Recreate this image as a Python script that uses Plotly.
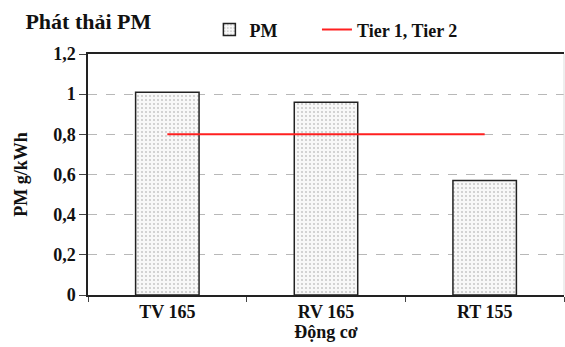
import plotly.graph_objects as go

engines = ["TV 165", "RV 165", "RT 155"]
pm_values = [1.01, 0.96, 0.57]
tier_limit = [0.8, 0.8, 0.8]
y_ticks = [0, 0.2, 0.4, 0.6, 0.8, 1.0, 1.2]

FONT = "Liberation Serif"
INK = "#111111"


def bold(size):
    return dict(family=FONT, size=size, color=INK, weight="bold")


fig = go.Figure()

fig.add_trace(go.Bar(
    x=engines, y=pm_values, name="PM", width=0.4, legend="legend",
    marker=dict(
        color="#f4f4f4",
        line=dict(color="#222222", width=1.5),
        pattern=dict(shape=".", fgcolor="#9a9a9a", bgcolor="#f8f8f8", size=4, solidity=0.22),
    ),
))

fig.add_trace(go.Scatter(
    x=engines, y=tier_limit, name="Tier 1, Tier 2", mode="lines", legend="legend2",
    line=dict(color="#ff2020", width=2),
))

legend_common = dict(orientation="h", y=1.1, yanchor="middle", xanchor="left",
                     font=bold(18), itemwidth=30, bgcolor="rgba(0,0,0,0)")

fig.update_layout(
    width=565, height=347,
    margin=dict(l=88, r=1, t=54, b=52),
    paper_bgcolor="white", plot_bgcolor="white",
    separators=", ",
    font=bold(18),
    title=dict(text="Phát thải PM", x=0.045, xanchor="left", y=0.94, yanchor="middle",
               font=bold(22)),
    showlegend=True,
    legend=dict(x=0.255, **legend_common),
    legend2=dict(x=0.481, **legend_common),
)

fig.update_xaxes(
    showline=True, linecolor="#222222", linewidth=1.5, mirror=True,
    ticks="outside", tickson="boundaries", ticklen=5, tickcolor="#444444",
    tickfont=bold(18),
    title=dict(text="Động cơ", standoff=0, font=bold(18)),
    showgrid=False,
)

fig.update_yaxes(
    range=[0, 1.2], tickvals=y_ticks,
    showline=True, linecolor="#222222", linewidth=1.5,
    ticks="outside", ticklen=7, tickcolor="#444444",
    tickfont=bold(18),
    showgrid=True, gridcolor="#b8b8b8", griddash="dash", gridwidth=1,
    zeroline=False,
    title=dict(text="PM g/kWh", standoff=21, font=bold(18)),
)

# faint right border of the plot area
fig.add_shape(type="line", xref="paper", yref="paper", x0=1, x1=1, y0=0, y1=1,
              line=dict(color="#dddddd", width=1))

fig.write_html("out.html")
